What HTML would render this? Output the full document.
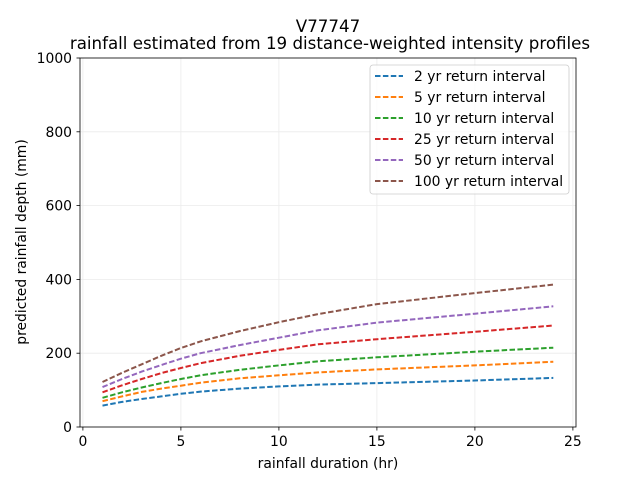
<!DOCTYPE html>
<html><head><meta charset="utf-8"><style>
body{margin:0;background:#fff}
svg{display:block;font-family:"DejaVu Sans","Liberation Sans",sans-serif}
</style></head><body>
<svg id="s" width="640" height="480" xmlns="http://www.w3.org/2000/svg">
<rect width="640" height="480" fill="#fff"/>
<g id="grid"></g>
<g id="lines"></g>
<rect x="80" y="58" width="496" height="369" fill="none" stroke="#000" stroke-width="0.8"/>
<g id="ticks" font-size="13.9" fill="#000"></g>
<text x="328" y="32" text-anchor="middle" font-size="16.67">V77747</text>
<text x="330" y="49" text-anchor="middle" font-size="16.67">rainfall estimated from 19 distance-weighted intensity profiles</text>
<text x="328" y="468" text-anchor="middle" font-size="13.9">rainfall duration (hr)</text>
<text transform="translate(26,242) rotate(-90)" text-anchor="middle" font-size="13.9">predicted rainfall depth (mm)</text>
<g id="legend"></g>
</svg>
<script>
var X=function(v){return 82.9+v*19.6},Y=function(v){return 427-v*0.369};
var g=document.getElementById('grid'),t=document.getElementById('ticks'),l=document.getElementById('lines'),lg=document.getElementById('legend');
var h='',tt='';
[0,5,10,15,20,25].forEach(function(v){var x=X(v);h+='<line x1="'+x+'" x2="'+x+'" y1="58" y2="427" stroke="#ebebeb" stroke-width="0.8"/>';tt+='<line x1="'+x+'" x2="'+x+'" y1="427" y2="430.5" stroke="#000" stroke-width="0.8"/><text x="'+x+'" y="446" text-anchor="middle">'+v+'</text>';});
[0,200,400,600,800,1000].forEach(function(v){var y=Y(v);h+='<line x1="80" x2="576" y1="'+y+'" y2="'+y+'" stroke="#ebebeb" stroke-width="0.8"/>';tt+='<line x1="76.5" x2="80" y1="'+y+'" y2="'+y+'" stroke="#000" stroke-width="0.8"/><text x="72" y="'+(y+5)+'" text-anchor="end">'+v+'</text>';});
g.innerHTML=h;t.innerHTML=tt;
var d=[1,2,3,4,5,6,8,10,12,15,20,24];
var S=[
['#1f77b4','2',[58,68,76,83,90,96,104,110,115,119,126,133]],
['#ff7f0e','5',[70,83,95,104,112,120,132,140,148,156,167,177]],
['#2ca02c','10',[79,94,107,119,130,140,155,167,178,189,204,215]],
['#d62728','25',[94,113,130,146,160,173,193,209,224,238,258,275]],
['#9467bd','50',[108,130,150,168,185,200,222,242,262,283,307,327]],
['#8c564b','100',[122,147,170,193,214,232,260,284,306,333,363,386]]];
var lh='',gh='<rect x="370" y="65" width="199" height="129" rx="3" fill="#fff" fill-opacity="0.8" stroke="#ccc" stroke-width="0.8"/>';
S.forEach(function(s,i){var p=s[2].map(function(v,j){return X(d[j]).toFixed(1)+','+Y(v).toFixed(1)}).join(' ');
lh+='<polyline points="'+p+'" fill="none" stroke="'+s[0]+'" stroke-width="2" stroke-dasharray="5.5,2.4"/>';
var y=76+i*21;gh+='<line x1="375" x2="403" y1="'+y+'" y2="'+y+'" stroke="'+s[0]+'" stroke-width="2" stroke-dasharray="5.5,2.4"/><text x="414" y="'+(y+5)+'" font-size="13.9">'+s[1]+' yr return interval</text>';});
l.innerHTML=lh;lg.innerHTML=gh;
</script>
</body></html>
